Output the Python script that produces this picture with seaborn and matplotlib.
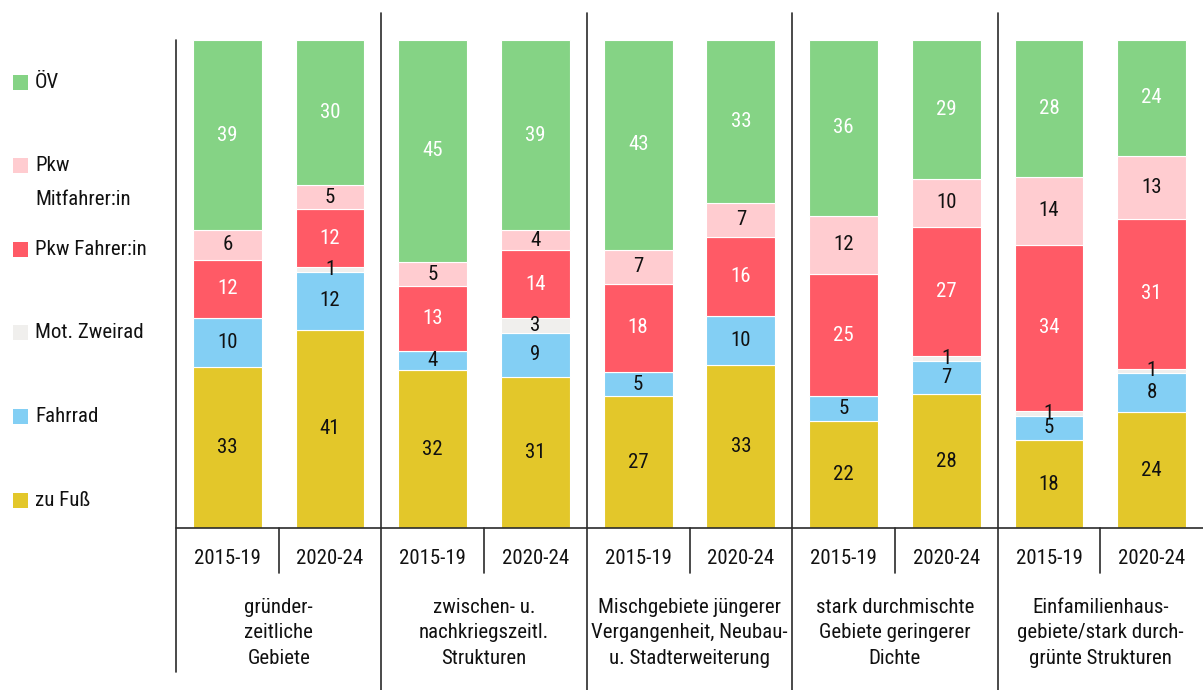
import seaborn as sns
import matplotlib.pyplot as plt
import matplotlib.font_manager as fm
from matplotlib.patches import Rectangle
import numpy as np

# modal split, share in % per settlement type and period
gruppen = ['gründer-\nzeitliche\nGebiete',
           'zwischen- u.\nnachkriegszeitl.\nStrukturen',
           'Mischgebiete jüngerer\nVergangenheit, Neubau-\nu. Stadterweiterung',
           'stark durchmischte\nGebiete geringerer\nDichte',
           'Einfamilienhaus-\ngebiete/stark durch-\ngrünte Strukturen']
perioden = ['2015-19', '2020-24']

kategorien = ['zu Fuß', 'Fahrrad', 'Mot. Zweirad', 'Pkw Fahrer:in', 'Pkw\nMitfahrer:in', 'ÖV']
farben = ['#E3C72A', '#83CFF4', '#F0EFED', '#FF5A66', '#FFCCD0', '#85D385']
textfarben = ['#111111', '#111111', '#111111', 'white', '#111111', 'white']

zu_fuss      = [33, 41, 32, 31, 27, 33, 22, 28, 18, 24]
fahrrad      = [10, 12,  4,  9,  5, 10,  5,  7,  5,  8]
mot_zweirad  = [ 0,  1,  0,  3,  0,  0,  0,  1,  1,  1]
pkw_fahrer   = [12, 12, 13, 14, 18, 16, 25, 27, 34, 31]
pkw_mitfahr  = [ 6,  5,  5,  4,  7,  7, 12, 10, 14, 13]
oev          = [39, 30, 45, 39, 43, 33, 36, 29, 28, 24]

werte = np.array([zu_fuss, fahrrad, mot_zweirad, pkw_fahrer, pkw_mitfahr, oev], dtype=float)
anteile = werte / werte.sum(axis=0) * 100  # bars fill 100 %

verfuegbar = {f.name for f in fm.fontManager.ttflist}
schrift = [f for f in ['Liberation Sans Narrow', 'Roboto Condensed', 'Lato', 'DejaVu Sans'] if f in verfuegbar]

sns.set_theme(style='white')
plt.rcParams['font.family'] = schrift
FS = 15

fig = plt.figure(figsize=(12.03, 6.90), dpi=100)
ax = fig.add_axes([176 / 1203, (690 - 528) / 690, 1 - 176 / 1203, 488 / 690])

balken = [f'{g}|{p}' for g in range(len(gruppen)) for p in perioden]
unten = np.zeros(len(balken))
for i, kat in enumerate(kategorien):
    sns.barplot(x=balken, y=anteile[i], bottom=unten, color=farben[i], width=0.67,
                edgecolor='white', linewidth=0.8, saturation=1, ax=ax, order=balken)
    for j, v in enumerate(werte[i]):
        if v > 0:
            ax.text(j, unten[j] + anteile[i][j] / 2, f'{int(v)}', ha='center', va='center',
                    fontsize=FS, color=textfarben[i])
    unten += anteile[i]

ax.set_xlim(-0.5, len(balken) - 0.5)
ax.set_ylim(0, 100)
ax.set_xticks([])
ax.set_yticks([])
ax.set_xlabel('')
sns.despine(ax=ax, left=True, bottom=True)

linie = dict(color='#2b2b2b', lw=1.2, clip_on=False, transform=ax.get_xaxis_transform())
ax.plot([-0.5, len(balken) - 0.5], [0, 0], **linie)
ax.plot([-0.5, -0.5], [1.0, -0.295], **linie)
for k in range(1, len(gruppen)):
    ax.plot([2 * k - 0.5] * 2, [1.055, -0.332], **linie)
for k in range(len(gruppen)):
    ax.plot([2 * k + 0.5] * 2, [0, -0.092], **linie)

for j, b in enumerate(balken):
    ax.text(j, -0.0615, b.split('|')[1], ha='center', va='center', fontsize=FS,
            color='#111111', transform=ax.get_xaxis_transform())
for k, g in enumerate(gruppen):
    ax.text(2 * k + 0.5, -0.215, g, ha='center', va='center', fontsize=FS, linespacing=1.45,
            color='#111111', transform=ax.get_xaxis_transform())

# legend on the left, top to bottom
for n, i in enumerate(reversed(range(len(kategorien)))):
    yc = 82 + n * 83.6
    fig.add_artist(Rectangle((13 / 1203, 1 - (yc + 7.5) / 690), 15 / 1203, 15 / 690,
                             transform=fig.transFigure, color=farben[i], lw=0))
    lines = kategorien[i].split('\n')
    for m, t in enumerate(lines):
        fig.text(35 / 1203, 1 - (yc + m * 34) / 690, t, ha='left', va='center',
                 fontsize=FS, color='#111111')

fig.savefig('out.png', dpi=100)
